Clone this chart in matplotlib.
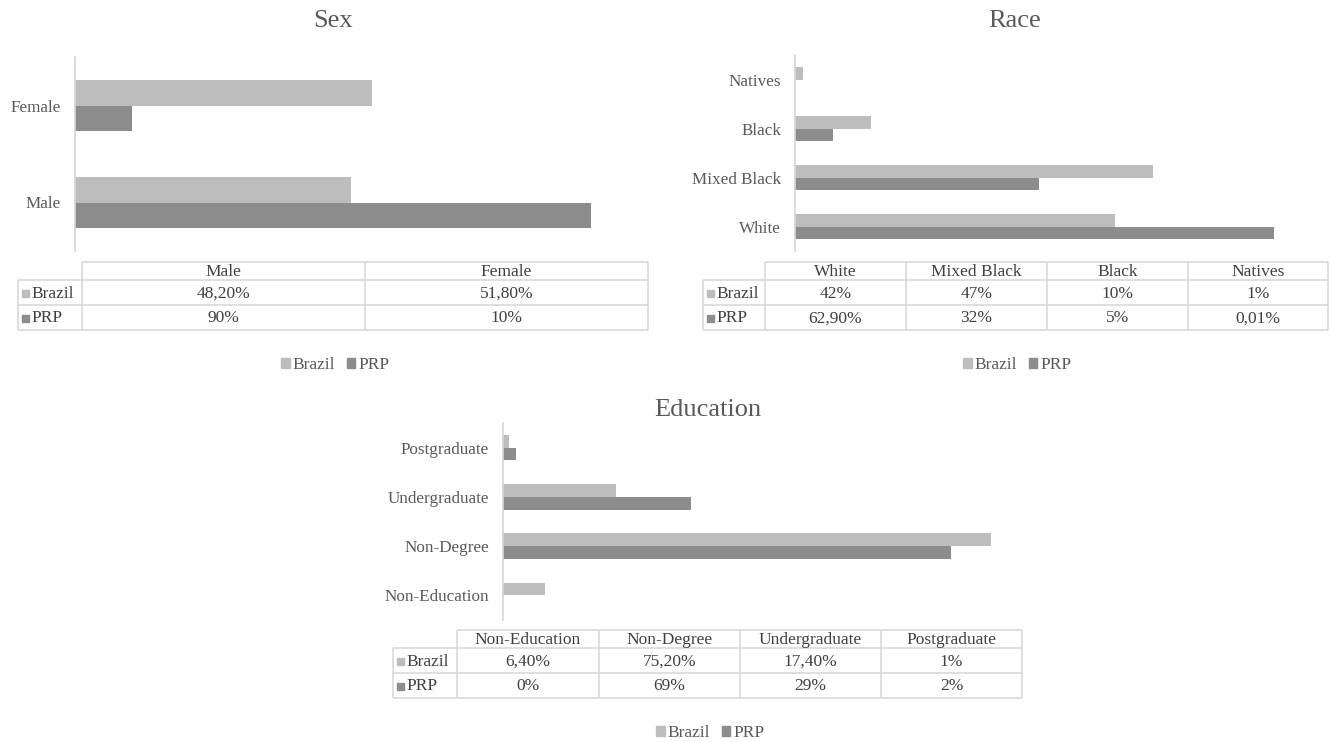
import matplotlib
matplotlib.use("Agg")
import matplotlib.pyplot as plt
from matplotlib.patches import Patch, Rectangle

plt.rcParams['font.family'] = ['Liberation Serif', 'DejaVu Serif']

# ---- data ----
sex_categories = ["Male", "Female"]
sex_brazil = [48.2, 51.8]
sex_prp = [90, 10]

race_categories = ["White", "Mixed Black", "Black", "Natives"]
race_brazil = [42, 47, 10, 1]
race_prp = [62.9, 32, 5, 0.01]

edu_categories = ["Non-Education", "Non-Degree", "Undergraduate", "Postgraduate"]
edu_brazil = [6.4, 75.2, 17.4, 1]
edu_prp = [0, 69, 29, 2]

series_names = ["Brazil", "PRP"]

# ---- style ----
W, H = 1331, 742
LIGHT = "#bdbdbd"
DARK = "#8c8c8c"
TEXT = "#595959"
CELL_TEXT = "#404040"
GRID = "#d6d6d6"
BAR_H = 0.26
TICK_FS = 12.3
CELL_FS = 12.5
TITLE_FS = 19
LEGEND_FS = 12.5

fig = plt.figure(figsize=(W / 100, H / 100), dpi=100)
fig.patch.set_facecolor("white")

# overlay in pixel coordinates for titles, tables and legends
overlay = fig.add_axes([0, 0, 1, 1], zorder=-1)
overlay.set_xlim(0, W)
overlay.set_ylim(H, 0)
overlay.axis("off")


def rect(x0, y0, x1, y1):
    return [x0 / W, 1 - y1 / H, (x1 - x0) / W, (y1 - y0) / H]


def fmt(v):
    if float(v).is_integer():
        return f"{int(v)}%"
    return f"{v:.2f}".replace(".", ",") + "%"


def bar_panel(box, cats, brazil, prp, xmax):
    ax = fig.add_axes(rect(*box))
    pos = list(range(len(cats)))
    ax.barh([p + BAR_H / 2 for p in pos], brazil, height=BAR_H, color=LIGHT)
    ax.barh([p - BAR_H / 2 for p in pos], prp, height=BAR_H, color=DARK)
    ax.set_xlim(0, xmax)
    ax.set_ylim(-0.5, len(cats) - 0.5)
    ax.set_yticks(pos)
    ax.set_yticklabels(cats, fontsize=TICK_FS, color=TEXT)
    ax.tick_params(axis="y", length=0, pad=10)
    ax.set_xticks([])
    for s in ["top", "right", "bottom"]:
        ax.spines[s].set_visible(False)
    ax.spines["left"].set_color(GRID)
    ax.spines["left"].set_linewidth(1.2)
    ax.set_facecolor("none")
    return ax


def data_table(x_legend, x_cols, y_rows, cats, brazil, prp):
    # x_cols: column boundaries after the legend column; y_rows: row boundaries
    x_left = x_legend
    x_first = x_cols[0]
    x_right = x_cols[-1]
    kw = dict(color=GRID, lw=1.1, solid_capstyle="butt")
    # horizontal lines
    overlay.plot([x_first, x_right], [y_rows[0], y_rows[0]], **kw)
    for y in y_rows[1:]:
        overlay.plot([x_left, x_right], [y, y], **kw)
    # vertical lines
    overlay.plot([x_left, x_left], [y_rows[1], y_rows[-1]], **kw)
    for x in x_cols:
        overlay.plot([x, x], [y_rows[0], y_rows[-1]], **kw)
    # header
    for i, c in enumerate(cats):
        xc = (x_cols[i] + x_cols[i + 1]) / 2
        overlay.text(xc, (y_rows[0] + y_rows[1]) / 2 + 1, c, ha="center",
                     va="center", fontsize=CELL_FS, color=CELL_TEXT)
    # rows
    for r, (name, vals, col) in enumerate(zip(series_names, [brazil, prp], [LIGHT, DARK])):
        yc = (y_rows[r + 1] + y_rows[r + 2]) / 2 + 1
        overlay.add_patch(Rectangle((x_left + 4, yc - 4), 7, 7, color=col))
        overlay.text(x_left + 13, yc, name, ha="left", va="center",
                     fontsize=CELL_FS, color=CELL_TEXT)
        for i, v in enumerate(vals):
            xc = (x_cols[i] + x_cols[i + 1]) / 2
            overlay.text(xc, yc, fmt(v), ha="center", va="center",
                         fontsize=CELL_FS, color=CELL_TEXT)


def legend_at(xc, yc):
    handles = [Patch(color=LIGHT, label=series_names[0]),
               Patch(color=DARK, label=series_names[1])]
    fig.legend(handles=handles, loc="center", bbox_to_anchor=(xc / W, 1 - yc / H),
               ncol=2, frameon=False, fontsize=LEGEND_FS, handlelength=0.5,
               handleheight=0.5, handletextpad=0.15, columnspacing=0.7,
               labelcolor=TEXT)


# ---- Sex ----
bar_panel((75, 57, 648, 251), sex_categories, sex_brazil, sex_prp, 100)
overlay.text(333, 21, "Sex", ha="center", va="center", fontsize=TITLE_FS, color=TEXT)
data_table(18, [82, 365, 648], [262, 280, 305, 330], sex_categories, sex_brazil, sex_prp)
legend_at(335, 365)

# ---- Race ----
bar_panel((795, 55, 1328, 251), race_categories, race_brazil, race_prp, 70)
overlay.text(1015, 21, "Race", ha="center", va="center", fontsize=TITLE_FS, color=TEXT)
data_table(703, [765, 906, 1047, 1188, 1328], [262, 280, 305, 330],
           race_categories, race_brazil, race_prp)
legend_at(1017, 365)

# ---- Education ----
bar_panel((503, 423, 1022, 620), edu_categories, edu_brazil, edu_prp, 80)
overlay.text(708, 410, "Education", ha="center", va="center", fontsize=TITLE_FS, color=TEXT)
data_table(393, [457, 599, 740, 881, 1022], [630, 648, 673, 698],
           edu_categories, edu_brazil, edu_prp)
legend_at(710, 733)

fig.savefig("out.png", dpi=100, facecolor="white")
